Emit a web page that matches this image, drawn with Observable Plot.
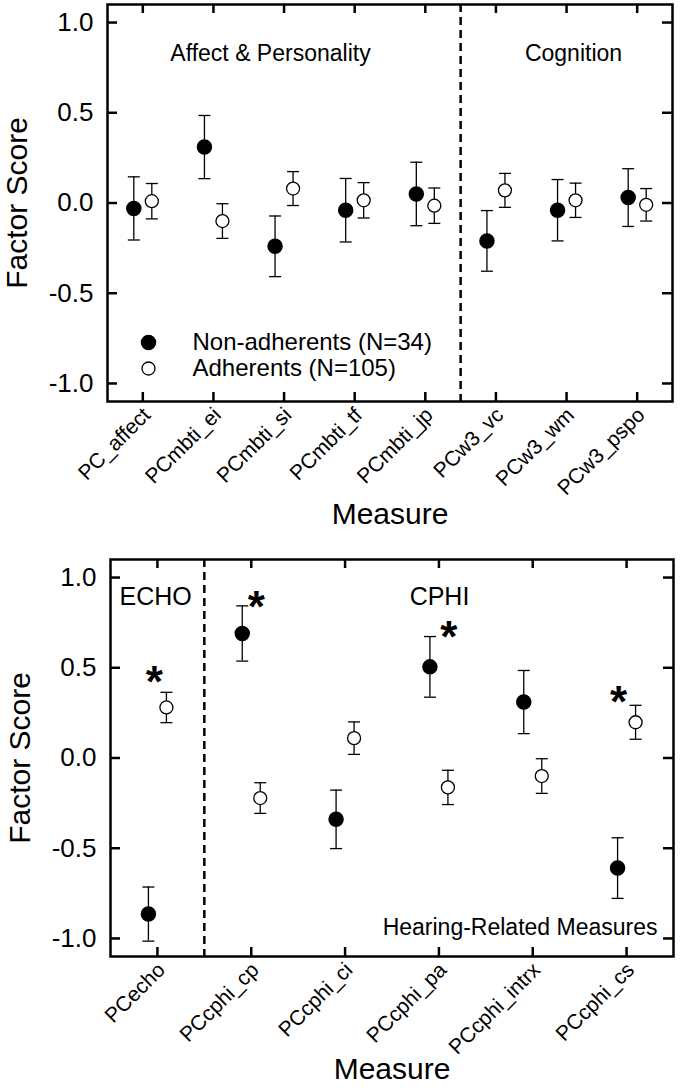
<!DOCTYPE html>
<html><head><meta charset="utf-8">
<script src="https://cdn.jsdelivr.net/npm/d3@7"></script>
<script src="https://cdn.jsdelivr.net/npm/@observablehq/plot@0.6"></script>
<style>
body{margin:0;background:#fff;font-family:"Liberation Sans",Arial,sans-serif}
svg{display:block}
</style>
</head><body><div id="chart"></div>
<script>
// ---- Top panel data ----
const topMeasures = ["PC_affect","PCmbti_ei","PCmbti_si","PCmbti_tf","PCmbti_jp","PCw3_vc","PCw3_wm","PCw3_pspo"];
const topNonMean = [-0.03, 0.31, -0.24, -0.04, 0.05, -0.21, -0.04, 0.03];
const topNonErr  = [0.175, 0.175, 0.168, 0.176, 0.176, 0.168, 0.170, 0.160];
const topAdhMean = [0.01, -0.10, 0.08, 0.015, -0.015, 0.07, 0.015, -0.01];
const topAdhErr  = [0.098, 0.096, 0.094, 0.098, 0.098, 0.094, 0.095, 0.090];
const topGroups = ["Affect & Personality", "Cognition"];
const topSeparator = ["PCmbti_jp", "PCw3_vc"]; // dashed line between these

// ---- Bottom panel data ----
const botMeasures = ["PCecho","PCcphi_cp","PCcphi_ci","PCcphi_pa","PCcphi_intrx","PCcphi_cs"];
const botNonMean = [-0.865, 0.69, -0.34, 0.505, 0.31, -0.61];
const botNonErr  = [0.150, 0.153, 0.162, 0.168, 0.175, 0.168];
const botAdhMean = [0.28, -0.222, 0.11, -0.163, -0.10, 0.198];
const botAdhErr  = [0.084, 0.085, 0.090, 0.095, 0.096, 0.094];
const botGroups = ["ECHO", "CPHI"];
const botSeparator = ["PCecho", "PCcphi_cp"];
const botNote = "Hearing-Related Measures";
const starMeasures = ["PCecho","PCcphi_cp","PCcphi_pa","PCcphi_cs"];
const starLevels   = [0.474, 0.889, 0.723, 0.363];

// ---- Shared ----
const yTicks = [-1.0, -0.5, 0.0, 0.5, 1.0];
const legendLabels = ["Non-adherents (N=34)", "Adherents (N=105)"];
const xTitle = "Measure";
const yTitle = "Factor Score";

const FONT = "Liberation Sans, Arial, Helvetica, sans-serif";
const capSymbol = {draw(ctx, size){ const r = Math.sqrt(size/Math.PI); ctx.moveTo(-r,0); ctx.lineTo(r,0); }};

function panel(cfg) {
  const {measures, nonMean, nonErr, adhMean, adhErr, separator, height, mt, mb, ml, mr, extra} = cfg;
  const n = measures.length;
  const idx = d3.range(n);
  const non = idx.map(i => ({i, m: nonMean[i], e: nonErr[i]}));
  const adh = idx.map(i => ({i, m: adhMean[i], e: adhErr[i]}));
  const W = 680 - ml - mr, H = height - mt - mb;
  const sep = (measures.indexOf(separator[0]) + measures.indexOf(separator[1])) / 2;
  const off = 9;
  return Plot.plot({
    width: 680, height,
    marginTop: mt, marginBottom: mb, marginLeft: ml, marginRight: mr,
    style: {fontFamily: FONT, background: "white", color: "black"},
    x: {type: "linear", domain: [-0.5, n - 0.5]},
    y: {domain: [-1.1, 1.1]},
    marks: [
      Plot.ruleX([sep], {stroke: "black", strokeWidth: 2.5, strokeDasharray: "8,5"}),
      Plot.tickY(yTicks, {y: d => d, insetRight: W - 10, strokeWidth: 2.5}),
      Plot.tickY(yTicks, {y: d => d, insetLeft: W - 10, strokeWidth: 2.5}),
      Plot.tickX(idx, {x: d => d, insetTop: H - 9, strokeWidth: 2.5}),
      Plot.tickX(idx, {x: d => d, insetBottom: H - 9, strokeWidth: 2.5}),
      Plot.axisY(yTicks, {tickSize: 0, tickPadding: 14, fontSize: 26, tickFormat: d => d.toFixed(1), label: null}),
      Plot.axisX(idx, {tickSize: 0, tickPadding: 10, tickRotate: -45, fontSize: 21, dx: 4, tickFormat: i => measures[i], label: null}),
      Plot.text([yTitle], {frameAnchor: "left", rotate: -90, dx: -90, textAnchor: "middle", lineAnchor: "middle", fontSize: 30}),
      Plot.text([xTitle], {frameAnchor: "bottom", dy: 122, lineAnchor: "bottom", textAnchor: "middle", fontSize: 30}),
      Plot.ruleX(non, {x: "i", y1: d => d.m - d.e, y2: d => d.m + d.e, dx: -off, strokeWidth: 1.3}),
      Plot.dot(non, {x: "i", y: d => d.m + d.e, dx: -off, symbol: capSymbol, r: 6, stroke: "black", strokeWidth: 1.3}),
      Plot.dot(non, {x: "i", y: d => d.m - d.e, dx: -off, symbol: capSymbol, r: 6, stroke: "black", strokeWidth: 1.3}),
      Plot.dot(non, {x: "i", y: "m", dx: -off, r: 7, fill: "black", stroke: "black"}),
      Plot.ruleX(adh, {x: "i", y1: d => d.m - d.e, y2: d => d.m + d.e, dx: off, strokeWidth: 1.3}),
      Plot.dot(adh, {x: "i", y: d => d.m + d.e, dx: off, symbol: capSymbol, r: 6, stroke: "black", strokeWidth: 1.3}),
      Plot.dot(adh, {x: "i", y: d => d.m - d.e, dx: off, symbol: capSymbol, r: 6, stroke: "black", strokeWidth: 1.3}),
      Plot.dot(adh, {x: "i", y: "m", dx: off, r: 6.5, fill: "white", stroke: "black", strokeWidth: 1.3}),
      ...extra,
      Plot.frame({stroke: "black", strokeWidth: 2.5})
    ]
  });
}

const topChart = panel({
  measures: topMeasures, nonMean: topNonMean, nonErr: topNonErr, adhMean: topAdhMean, adhErr: topAdhErr,
  separator: topSeparator, height: 540, mt: 4, mb: 139, ml: 107, mr: 8,
  extra: [
    Plot.text([topGroups[0]], {frameAnchor: "top-left", dx: 163, dy: 49, textAnchor: "middle", lineAnchor: "middle", fontSize: 23}),
    Plot.text([topGroups[1]], {frameAnchor: "top-left", dx: 466, dy: 49, textAnchor: "middle", lineAnchor: "middle", fontSize: 23}),
    Plot.dot([legendLabels[0]], {frameAnchor: "top-left", dx: 41, dy: 338, r: 7, fill: "black", stroke: "black"}),
    Plot.dot([legendLabels[1]], {frameAnchor: "top-left", dx: 41, dy: 364, r: 6.5, fill: "white", stroke: "black", strokeWidth: 1.3}),
    Plot.text([legendLabels[0]], {frameAnchor: "top-left", dx: 85, dy: 338, textAnchor: "start", lineAnchor: "middle", fontSize: 24}),
    Plot.text([legendLabels[1]], {frameAnchor: "top-left", dx: 85, dy: 364, textAnchor: "start", lineAnchor: "middle", fontSize: 24})
  ]
});

const stars = starMeasures.map((m, k) => ({i: botMeasures.indexOf(m), v: starLevels[k]}));
const starMark = (k, dx) => Plot.text([stars[k]], {x: "i", y: "v", text: () => "*", fontSize: 44, fontWeight: "bold", dx, dy: 10});
const bottomChart = panel({
  measures: botMeasures, nonMean: botNonMean, nonErr: botNonErr, adhMean: botAdhMean, adhErr: botAdhErr,
  separator: botSeparator, height: 548, mt: 19, mb: 132, ml: 110, mr: 7,
  extra: [
    Plot.text([botGroups[0]], {frameAnchor: "top-left", dx: 9, dy: 37, textAnchor: "start", lineAnchor: "middle", fontSize: 25}),
    Plot.text([botGroups[1]], {frameAnchor: "top-left", dx: 329, dy: 37, textAnchor: "middle", lineAnchor: "middle", fontSize: 25}),
    Plot.text([botNote], {frameAnchor: "bottom-right", dx: -16, dy: -29, textAnchor: "end", lineAnchor: "middle", fontSize: 23}),
    starMark(0, -3), starMark(1, 5), starMark(2, 10), starMark(3, -8)
  ]
});

const root = document.getElementById("chart");
root.appendChild(topChart);
root.appendChild(bottomChart);
</script>
</body></html>
